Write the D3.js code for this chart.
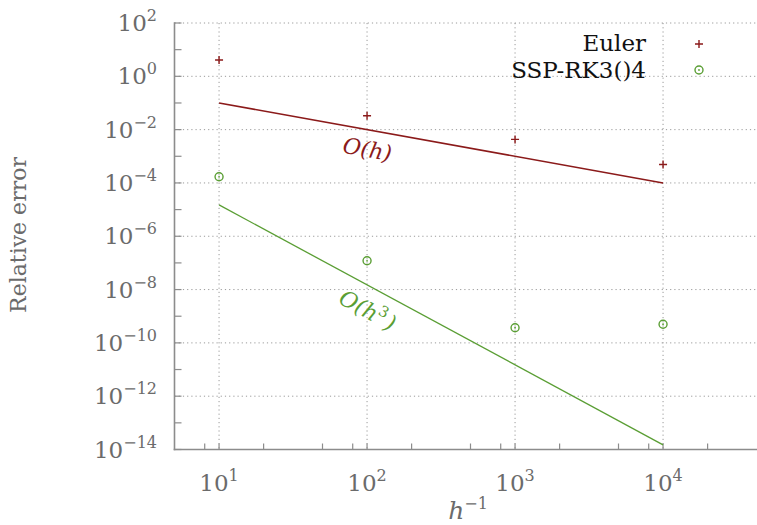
<!DOCTYPE html>
<html>
<head>
<meta charset="utf-8">
<script src="https://cdn.jsdelivr.net/npm/d3@7"></script>
<style>
  html, body { margin: 0; padding: 0; background: #fff; }
  svg { display: block; }
</style>
</head>
<body>
<div id="chart"></div>
<script>
// ---- data ----
const hInv = [10, 100, 1000, 10000];
const eulerErr = [4.1, 0.033, 0.0043, 4.9e-4];
const sspErr = [1.7e-4, 1.2e-7, 3.7e-10, 5.0e-10];
const refX = [10, 10000];
const refOrder1 = [0.1, 1e-4];
const refOrder3 = [1.5e-5, 1.5e-14];
const xMajorTicks = [10, 100, 1000, 10000];
const xMinorMult = [2, 5, 8];
const yLabelExps = [2, 0, -2, -4, -6, -8, -10, -12, -14];
const seriesNames = ["Euler", "SSP-RK3()4"];

const W = 757, H = 525;
const RED = "#8b1a1a", GREEN = "#5a9e34", GRAY = "#8c8c8c", TXT = "#6b6b6b";
const FONT = "'DejaVu Serif', serif";

const svg = d3.select("#chart").append("svg").attr("width", W).attr("height", H)
  .attr("font-family", FONT);

const x = d3.scaleLog().domain([5, 5e4]).range([174.5, 766.5]);
const y = d3.scaleLog().domain([1e-14, 1e2]).range([449.5, 23]);

const pLeft = x.range()[0], pBottom = y.range()[0], pTop = y.range()[1];

// grid
const grid = svg.append("g").attr("stroke", "#9a9a9a").attr("stroke-width", 1).attr("stroke-dasharray", "1.2,3");
yLabelExps.filter(e => e > -14).forEach(e => {
  grid.append("line").attr("x1", pLeft).attr("x2", W).attr("y1", y(Math.pow(10, e))).attr("y2", y(Math.pow(10, e)));
});
xMajorTicks.forEach(t => {
  grid.append("line").attr("x1", x(t)).attr("x2", x(t)).attr("y1", pTop).attr("y2", pBottom);
});

// axes
const ax = svg.append("g").attr("stroke", GRAY).attr("stroke-width", 1.6).attr("fill", "none");
ax.append("line").attr("x1", pLeft).attr("x2", pLeft).attr("y1", pTop - 0.8).attr("y2", pBottom + 0.8);
ax.append("line").attr("x1", pLeft - 0.8).attr("x2", W).attr("y1", pBottom).attr("y2", pBottom);

// y ticks every decade
d3.range(-14, 3).forEach(e => {
  const yy = y(Math.pow(10, e));
  ax.append("line").attr("x1", pLeft).attr("x2", pLeft + 7).attr("y1", yy).attr("y2", yy).attr("stroke-width", 1.2);
});
// x ticks
const xAllTicks = [];
[1, 10, 100, 1000, 10000].forEach(d => xMinorMult.forEach(m => xAllTicks.push(d * m)));
xMajorTicks.forEach(t => xAllTicks.push(t));
xAllTicks.filter(t => x(t) > pLeft + 2 && x(t) < W).forEach(t => {
  ax.append("line").attr("x1", x(t)).attr("x2", x(t)).attr("y1", pBottom).attr("y2", pBottom - 6).attr("stroke-width", 1.2);
});

// y tick labels
yLabelExps.forEach(e => {
  const t = svg.append("text").attr("x", 157).attr("y", y(Math.pow(10, e)) + 8)
    .attr("text-anchor", "end").attr("fill", TXT).attr("font-size", 23);
  t.append("tspan").text("10");
  t.append("tspan").attr("dy", -10).attr("font-size", 16).text(e < 0 ? "\u2212" + (-e) : String(e));
});
// x tick labels
xMajorTicks.forEach(tk => {
  const e = Math.round(Math.log10(tk));
  const t = svg.append("text").attr("x", x(tk)).attr("y", 491)
    .attr("text-anchor", "middle").attr("fill", TXT).attr("font-size", 23);
  t.append("tspan").text("10");
  t.append("tspan").attr("dy", -10).attr("font-size", 16).text(String(e));
});

// axis titles
svg.append("text").attr("transform", "translate(26,235) rotate(-90)")
  .attr("text-anchor", "middle").attr("fill", TXT).attr("font-size", 22).text("Relative error");
const xt = svg.append("text").attr("x", 468).attr("y", 519).attr("text-anchor", "middle")
  .attr("fill", TXT).attr("font-size", 25);
xt.append("tspan").attr("font-style", "italic").text("h");
xt.append("tspan").attr("dy", -10).attr("font-size", 16).text("\u22121");

// reference lines
const line = d3.line().x(d => x(d[0])).y(d => y(d[1]));
svg.append("path").datum(refX.map((v, i) => [v, refOrder1[i]]))
  .attr("d", line).attr("stroke", RED).attr("stroke-width", 1.5).attr("fill", "none");
svg.append("path").datum(refX.map((v, i) => [v, refOrder3[i]]))
  .attr("d", line).attr("stroke", GREEN).attr("stroke-width", 1.3).attr("fill", "none");

// reference labels
function angleOf(vals) {
  const dx = x(refX[1]) - x(refX[0]), dy = y(vals[1]) - y(vals[0]);
  return Math.atan2(dy, dx) * 180 / Math.PI;
}
const l1 = svg.append("text").attr("transform", `translate(366,157) rotate(${angleOf(refOrder1)})`)
  .attr("text-anchor", "middle").attr("fill", RED).attr("font-size", 22).attr("font-style", "italic");
l1.append("tspan").text("O(h)");
const l3 = svg.append("text").attr("transform", `translate(364,317) rotate(${angleOf(refOrder3)})`)
  .attr("text-anchor", "middle").attr("fill", GREEN).attr("font-size", 22).attr("font-style", "italic");
l3.append("tspan").text("O(h");
l3.append("tspan").attr("dy", -9).attr("font-size", 15).attr("font-style", "normal").text("3");
l3.append("tspan").attr("dy", 9).attr("dx", 2).text(")");

// points
function plus(g, cx, cy, color) {
  g.append("path").attr("d", `M${cx - 4},${cy}H${cx + 4}M${cx},${cy - 4}V${cy + 4}`)
    .attr("stroke", color).attr("stroke-width", 1.4).attr("fill", "none");
}
function circ(g, cx, cy, color) {
  g.append("circle").attr("cx", cx).attr("cy", cy).attr("r", 4).attr("stroke", color)
    .attr("stroke-width", 1.4).attr("fill", "none");
  g.append("circle").attr("cx", cx).attr("cy", cy).attr("r", 0.9).attr("fill", color);
}
const pts = svg.append("g");
hInv.forEach((h, i) => plus(pts, x(h), y(eulerErr[i]), RED));
hInv.forEach((h, i) => circ(pts, x(h), y(sspErr[i]), GREEN));

// legend
const leg = svg.append("g");
leg.append("text").attr("x", 646).attr("y", 51).attr("text-anchor", "end").attr("font-size", 23)
  .attr("fill", "#111").text(seriesNames[0]);
leg.append("text").attr("x", 646).attr("y", 78).attr("text-anchor", "end").attr("font-size", 23)
  .attr("fill", "#111").text(seriesNames[1]);
plus(leg, 699, 44, RED);
circ(leg, 699, 70, GREEN);
</script>
</body>
</html>
